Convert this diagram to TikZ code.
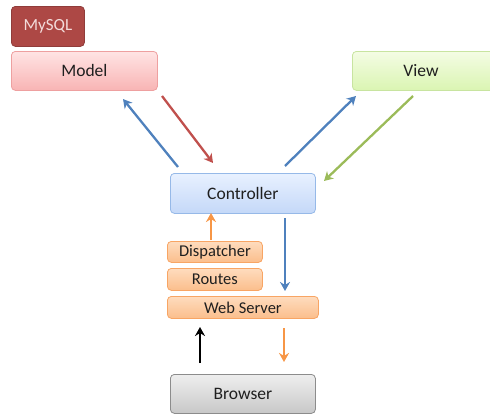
\documentclass[tikz,border=0pt]{standalone}
\usepackage{fontspec}
\setmainfont{Carlito}
\usetikzlibrary{arrows.meta}
\definecolor{abl}{HTML}{4F81BD}
\definecolor{ard}{HTML}{C0504D}
\definecolor{agr}{HTML}{9BBB59}
\definecolor{aor}{HTML}{F79646}
\definecolor{mtop}{RGB}{255,228,228}
\definecolor{mbot}{RGB}{248,180,180}
\definecolor{mbrd}{RGB}{238,160,160}
\definecolor{vtop}{RGB}{244,252,228}
\definecolor{vbot}{RGB}{218,245,178}
\definecolor{vbrd}{RGB}{200,228,160}
\definecolor{ctop}{RGB}{232,241,255}
\definecolor{cbot}{RGB}{196,216,248}
\definecolor{cbrd}{RGB}{150,185,232}
\definecolor{otop}{RGB}{254,220,190}
\definecolor{obot}{RGB}{251,190,140}
\definecolor{obrd}{RGB}{248,165,100}
\definecolor{gtop}{RGB}{238,238,238}
\definecolor{gbot}{RGB}{200,200,200}
\definecolor{gbrd}{RGB}{140,140,140}
\tikzset{
  box/.style={rounded corners=4pt, line width=0.8pt, inner sep=0pt, anchor=north west},
  modelbox/.style={box, draw=mbrd, top color=mtop, bottom color=mbot},
  viewbox/.style={box, draw=vbrd, top color=vtop, bottom color=vbot},
  ctrlbox/.style={box, draw=cbrd, top color=ctop, bottom color=cbot},
  orbox/.style={box, draw=obrd, top color=otop, bottom color=obot},
  brbox/.style={box, draw=gbrd, top color=gtop, bottom color=gbot},
  sqlbox/.style={box, draw=ard!75!black, fill=ard!90!black},
  lbl/.style={font=\fontsize{17.5}{19}\selectfont, text=black!88},
  slbl/.style={font=\fontsize{16.5}{18}\selectfont, text=black!88},
  arr/.style={line width=2.3pt, -{Stealth[length=9pt,width=10pt]}},
}
\begin{document}
\begin{tikzpicture}[x=1pt,y=-1pt]
\useasboundingbox (0,0) rectangle (490,415);
\begin{scope}
\clip (0,0) rectangle (490,415);
\node[sqlbox, minimum width=73pt, minimum height=40pt] (sql) at (11,6) {};
\node[font=\fontsize{17}{19}\selectfont, text=ard!20] at (sql.center) {MySQL};
\node[modelbox, minimum width=146pt, minimum height=39pt] (model) at (11,51) {};
\node[lbl] at (model.center) {Model};
\node[viewbox, minimum width=142pt, minimum height=39pt] (view) at (352,51) {};
\node[lbl] at (421,70.5) {View};
\node[ctrlbox, minimum width=145pt, minimum height=40pt] (ctrl) at (170,173) {};
\node[lbl] at (ctrl.center) {Controller};
\node[orbox, minimum width=95pt, minimum height=21pt] (disp) at (167,241) {};
\node[slbl] at (disp.center) {Dispatcher};
\node[orbox, minimum width=95pt, minimum height=22pt] (routes) at (167,268) {};
\node[slbl] at (routes.center) {Routes};
\node[orbox, minimum width=151pt, minimum height=22pt] (web) at (167,296) {};
\node[slbl] at (web.center) {Web Server};
\node[brbox, minimum width=145pt, minimum height=39pt] (br) at (170,374) {};
\node[lbl] at (br.center) {Browser};
\end{scope}
% connectors
\coordinate (a1s) at (178,167); \coordinate (a1e) at (123,99);
\draw[arr, abl] (a1s) -- (a1e);
\coordinate (a2s) at (162,96); \coordinate (a2e) at (213,163);
\draw[arr, ard] (a2s) -- (a2e);
\coordinate (a3s) at (285,166); \coordinate (a3e) at (356,96);
\draw[arr, abl] (a3s) -- (a3e);
\coordinate (a4s) at (413,96); \coordinate (a4e) at (324,181);
\draw[arr, agr] (a4s) -- (a4e);
\coordinate (a5s) at (211,240); \coordinate (a5e) at (211,213);
\draw[arr, aor] (a5s) -- (a5e);
\coordinate (a6s) at (285,218); \coordinate (a6e) at (285,291);
\draw[arr, abl] (a6s) -- (a6e);
\coordinate (a7s) at (200,363); \coordinate (a7e) at (200,327);
\draw[arr, black] (a7s) -- (a7e);
\coordinate (a8s) at (284,328); \coordinate (a8e) at (284,362);
\draw[arr, aor] (a8s) -- (a8e);
\end{tikzpicture}
\end{document}
